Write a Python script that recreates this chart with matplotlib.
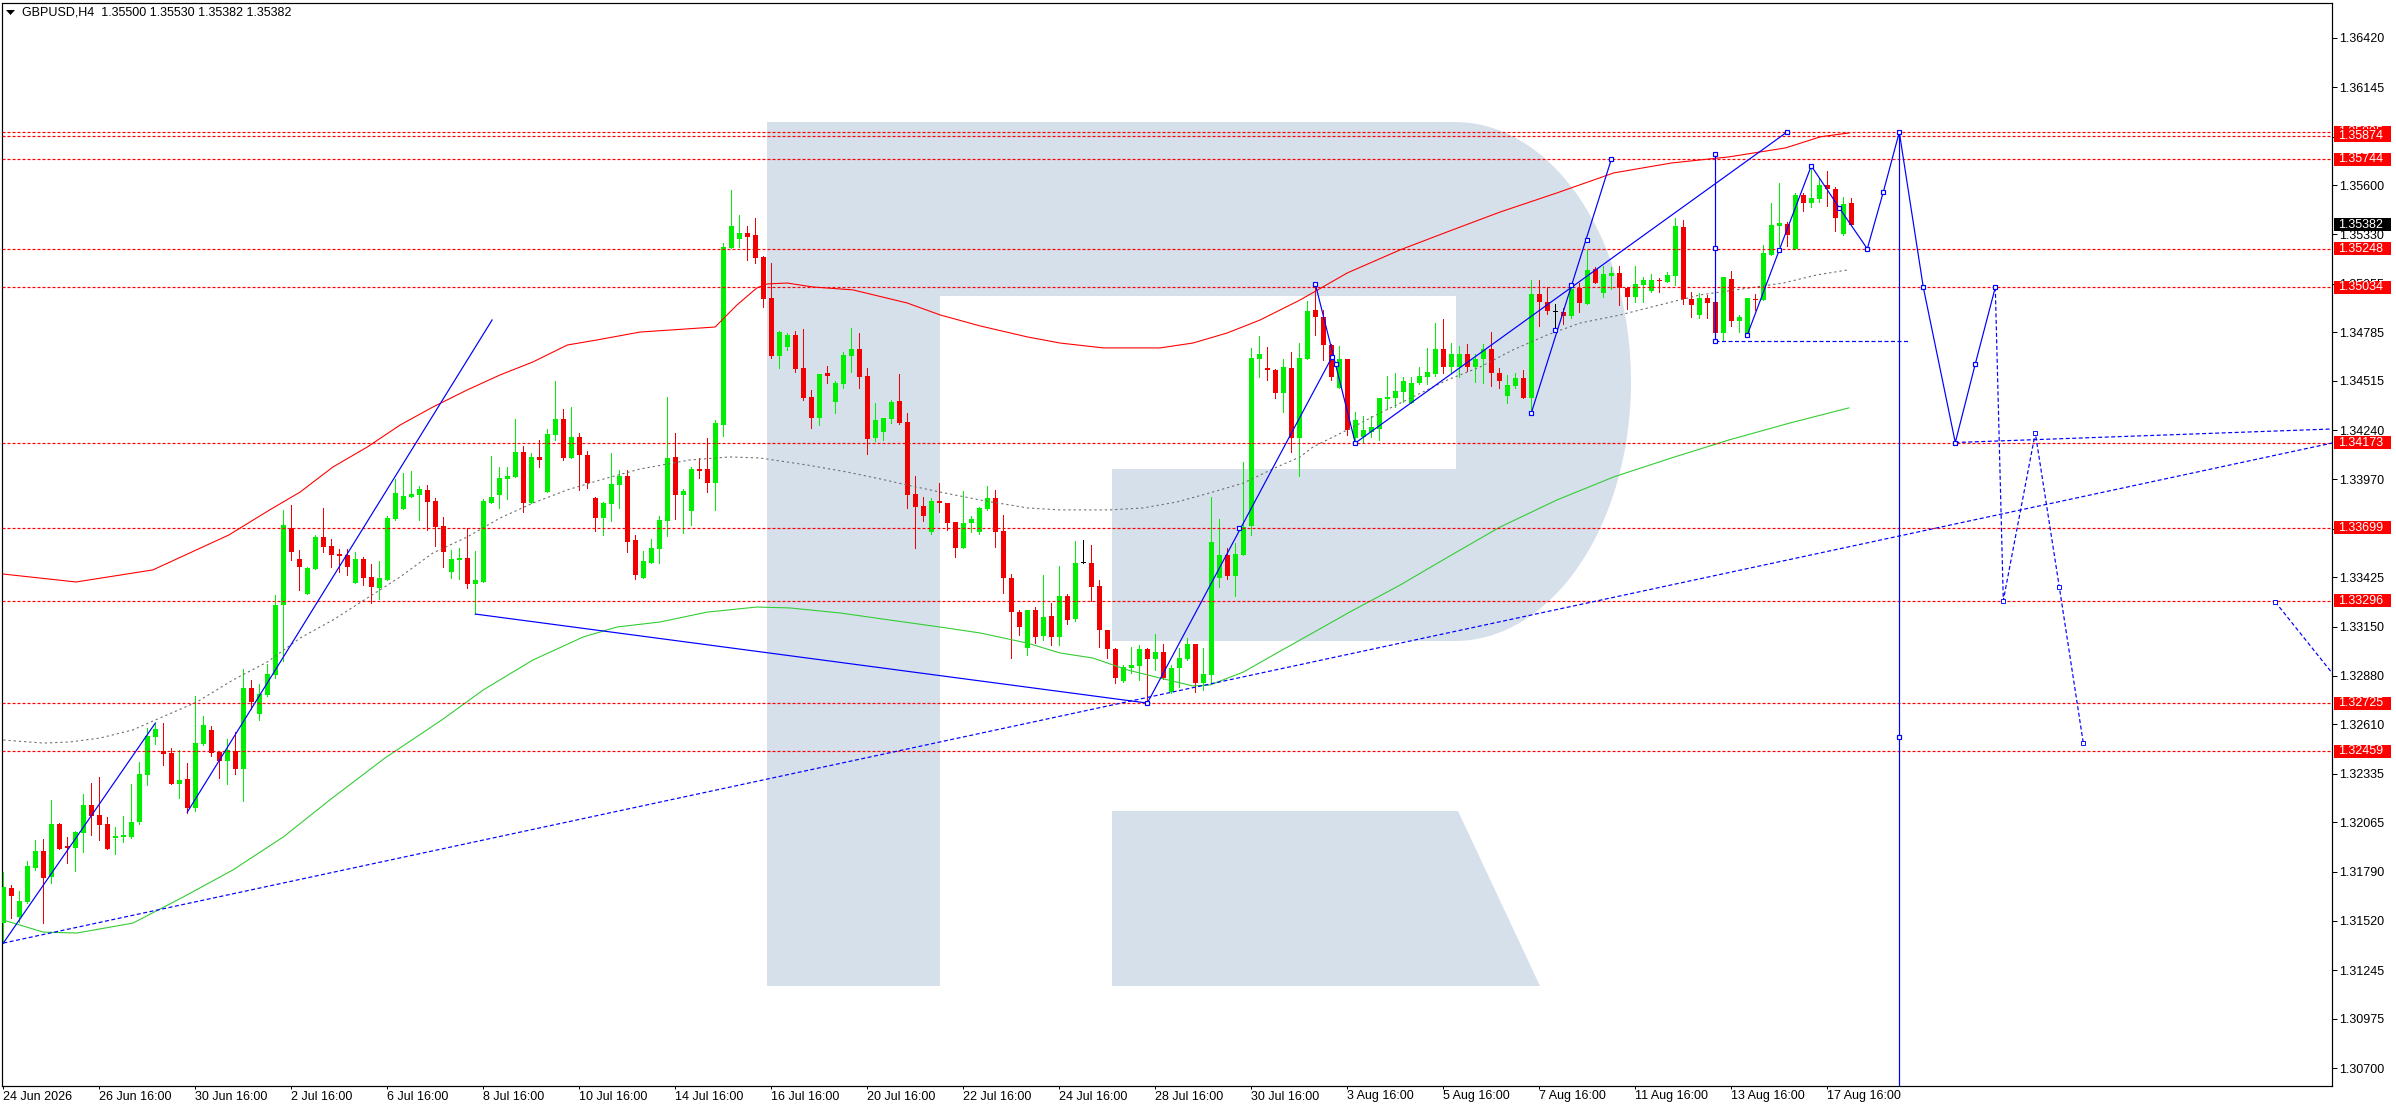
import matplotlib
matplotlib.use('Agg')
import matplotlib.pyplot as plt
import matplotlib.transforms as mtransforms
from matplotlib.patches import Polygon, Rectangle
import numpy as np

plt.rcParams['font.family'] = ['Liberation Sans', 'DejaVu Sans']
plt.rcParams['lines.scale_dashes'] = False

# ---------------- data ----------------
title_text = "GBPUSD,H4  1.35500 1.35530 1.35382 1.35382"

opens = [
1.31506,1.31701,1.31540,1.31623,1.31812,1.31906,1.31762,1.32056,1.31934,1.31923,
1.32006,1.32161,1.32106,1.32056,1.31978,1.31984,1.31984,1.32067,1.32328,1.32539,
1.32461,1.32450,1.32278,1.32306,1.32146,1.32500,1.32578,1.32455,1.32405,1.32461,
1.32361,1.32811,1.32666,1.32772,1.32883,1.33271,1.33699,1.33527,1.33332,1.33471,
1.33649,1.33599,1.33554,1.33549,1.33393,1.33527,1.33427,1.33366,1.33410,1.33749,
1.33804,1.33871,1.33882,1.33910,1.33848,1.33710,1.33454,1.33521,1.33532,1.33388,
1.33399,1.33837,1.33882,1.33971,1.33982,1.34120,1.33837,1.34093,1.33898,1.34215,
1.34304,1.34087,1.34204,1.34104,1.33865,1.33754,1.33832,1.33937,1.33987,1.33632,
1.33421,1.33504,1.33582,1.33737,1.34093,1.33882,1.33793,1.34026,1.34026,1.33948,
1.34270,1.35253,1.35303,1.35336,1.35325,1.35203,1.34975,1.34653,1.34703,1.34770,
1.34587,1.34426,1.34309,1.34559,1.34398,1.34498,1.34653,1.34692,1.34542,1.34198,
1.34231,1.34304,1.34403,1.34287,1.33887,1.33821,1.33676,1.33848,1.33837,1.33732,
1.33588,1.33726,1.33676,1.33804,1.33865,1.33682,1.33421,1.33232,1.33033,1.33244,
1.33099,1.33210,1.33094,1.33321,1.33194,1.33504,1.33504,1.33377,1.33132,1.33027,
1.32849,1.32922,1.32933,1.33027,1.32972,1.33010,1.32788,1.32922,1.32972,1.33055,
1.32838,1.32883,1.33421,1.33549,1.33432,1.33549,1.33710,1.34637,1.34587,1.34576,
1.34448,1.34587,1.34198,1.34637,1.34909,1.34870,1.34714,1.34476,1.34637,1.34198,
1.34204,1.34231,1.34248,1.34415,1.34420,1.34453,1.34392,1.34503,1.34537,1.34553,
1.34692,1.34592,1.34592,1.34664,1.34592,1.34637,1.34692,1.34559,1.34431,1.34487,
1.34531,1.34420,1.34997,1.34953,1.34897,1.34897,1.34875,1.35031,1.34942,1.35136,
1.35003,1.35097,1.35114,1.35031,1.34981,1.35047,1.35014,1.35075,1.35064,1.35097,
1.35369,1.34970,1.34881,1.34975,1.34953,1.34781,1.35081,1.34847,1.34775,1.34970,
1.34964,1.35214,1.35375,1.35386,1.35247,1.35547,1.35502,1.35525,1.35602,1.35580,
1.35330,1.35500]

highs = [
1.31789,1.31717,1.31684,1.31850,1.31967,1.31973,1.32189,1.32061,1.31984,1.32017,
1.32222,1.32283,1.32317,1.32095,1.32039,1.32100,1.32278,1.32400,1.32589,1.32616,
1.32616,1.32478,1.32467,1.32394,1.32766,1.32655,1.32600,1.32455,1.32528,1.32566,
1.32916,1.32855,1.32833,1.32944,1.33327,1.33799,1.33826,1.33577,1.33482,1.33660,
1.33810,1.33638,1.33582,1.33582,1.33565,1.33538,1.33499,1.33515,1.33765,1.33971,
1.34004,1.34015,1.33932,1.33937,1.33865,1.33760,1.33577,1.33588,1.33699,1.33571,
1.33860,1.34098,1.34037,1.34037,1.34304,1.34154,1.34115,1.34187,1.34248,1.34514,
1.34359,1.34370,1.34226,1.34126,1.33871,1.33843,1.34115,1.34021,1.34021,1.33660,
1.33571,1.33638,1.33765,1.34426,1.34226,1.33915,1.34037,1.34087,1.34198,1.34298,
1.35280,1.35575,1.35436,1.35375,1.35419,1.35208,1.35169,1.34792,1.34781,1.34792,
1.34803,1.34465,1.34553,1.34598,1.34514,1.34675,1.34809,1.34781,1.34587,1.34392,
1.34309,1.34409,1.34553,1.34337,1.33987,1.33871,1.33865,1.33948,1.33837,1.33732,
1.33904,1.33765,1.33815,1.33932,1.33910,1.33771,1.33443,1.33244,1.33244,1.33260,
1.33438,1.33282,1.33488,1.33332,1.33627,1.33632,1.33604,1.33410,1.33132,1.33033,
1.32938,1.33038,1.33049,1.33033,1.33110,1.33055,1.32938,1.33033,1.33088,1.33055,
1.33033,1.33871,1.33749,1.33588,1.33615,1.34065,1.34698,1.34764,1.34703,1.34581,
1.34637,1.34675,1.34725,1.34958,1.35053,1.34909,1.34720,1.34709,1.34637,1.34342,
1.34320,1.34320,1.34420,1.34542,1.34559,1.34537,1.34537,1.34592,1.34698,1.34836,
1.34859,1.34725,1.34709,1.34720,1.34664,1.34720,1.34786,1.34587,1.34548,1.34559,
1.34576,1.35075,1.35075,1.35036,1.34942,1.34920,1.35058,1.35058,1.35242,1.35147,
1.35153,1.35147,1.35153,1.35036,1.35153,1.35092,1.35108,1.35086,1.35119,1.35419,
1.35408,1.35008,1.35003,1.34992,1.34953,1.35092,1.35125,1.34881,1.34975,1.34997,
1.35269,1.35502,1.35613,1.35397,1.35558,1.35558,1.35708,1.35641,1.35680,1.35591,
1.35536,1.35530]

lows = [
1.31395,1.31534,1.31512,1.31617,1.31801,1.31506,1.31728,1.31917,1.31839,1.31795,
1.31900,1.31995,1.31967,1.31917,1.31889,1.31956,1.31978,1.32056,1.32272,1.32500,
1.32383,1.32278,1.32200,1.32117,1.32128,1.32494,1.32433,1.32311,1.32278,1.32333,
1.32183,1.32694,1.32633,1.32766,1.32866,1.32960,1.33521,1.33355,1.33332,1.33471,
1.33565,1.33482,1.33454,1.33438,1.33393,1.33382,1.33282,1.33305,1.33410,1.33743,
1.33804,1.33871,1.33743,1.33688,1.33599,1.33482,1.33421,1.33416,1.33366,1.33221,
1.33399,1.33837,1.33810,1.33860,1.33982,1.33787,1.33837,1.34037,1.33898,1.34187,
1.34076,1.34087,1.33910,1.33921,1.33682,1.33660,1.33737,1.33810,1.33565,1.33416,
1.33421,1.33504,1.33504,1.33654,1.33749,1.33671,1.33715,1.33976,1.33898,1.33799,
1.34209,1.35253,1.35258,1.35186,1.35169,1.34925,1.34642,1.34587,1.34687,1.34564,
1.34409,1.34254,1.34270,1.34503,1.34337,1.34476,1.34564,1.34476,1.34109,1.34181,
1.34187,1.34281,1.34276,1.33810,1.33588,1.33737,1.33665,1.33787,1.33688,1.33538,
1.33588,1.33676,1.33665,1.33799,1.33593,1.33338,1.32977,1.33105,1.32994,1.33060,
1.33077,1.33049,1.33049,1.33166,1.33182,1.33504,1.33293,1.33038,1.32977,1.32838,
1.32844,1.32894,1.32855,1.32727,1.32911,1.32861,1.32783,1.32816,1.32966,1.32788,
1.32800,1.32838,1.33371,1.33416,1.33321,1.33549,1.33660,1.34537,1.34520,1.34420,
1.34342,1.34120,1.33987,1.34637,1.34770,1.34631,1.34520,1.34476,1.34215,1.34170,
1.34176,1.34204,1.34187,1.34359,1.34370,1.34398,1.34392,1.34498,1.34498,1.34542,
1.34559,1.34559,1.34537,1.34570,1.34509,1.34503,1.34487,1.34476,1.34392,1.34476,
1.34420,1.34337,1.34820,1.34886,1.34798,1.34831,1.34864,1.34897,1.34942,1.35058,
1.34981,1.35025,1.34936,1.34914,1.34953,1.34953,1.35008,1.35008,1.35064,1.35047,
1.34942,1.34870,1.34864,1.34864,1.34736,1.34742,1.34820,1.34786,1.34770,1.34909,
1.34964,1.35214,1.35264,1.35264,1.35247,1.35458,1.35480,1.35508,1.35486,1.35347,
1.35325,1.35382]

closes = [
1.31706,1.31656,1.31628,1.31823,1.31906,1.31756,1.32056,1.31917,1.31923,1.32011,
1.32161,1.32100,1.32050,1.31917,1.31989,1.31995,1.32067,1.32333,1.32544,1.32583,
1.32444,1.32278,1.32300,1.32146,1.32505,1.32605,1.32450,1.32405,1.32467,1.32361,
1.32811,1.32733,1.32777,1.32888,1.33271,1.33715,1.33565,1.33482,1.33477,1.33649,
1.33593,1.33549,1.33543,1.33482,1.33527,1.33421,1.33371,1.33421,1.33754,1.33893,
1.33876,1.33887,1.33915,1.33843,1.33704,1.33565,1.33527,1.33532,1.33388,1.33410,
1.33848,1.33871,1.33976,1.33987,1.34120,1.33837,1.34093,1.34076,1.34220,1.34304,
1.34087,1.34204,1.34104,1.33948,1.33754,1.33837,1.33943,1.33987,1.33621,1.33438,
1.33515,1.33588,1.33743,1.34087,1.33882,1.33904,1.34026,1.34015,1.33948,1.34281,
1.35258,1.35375,1.35336,1.35314,1.35197,1.34970,1.34653,1.34786,1.34770,1.34581,
1.34420,1.34309,1.34553,1.34542,1.34503,1.34659,1.34692,1.34537,1.34193,1.34298,
1.34309,1.34398,1.34281,1.33882,1.33815,1.33765,1.33848,1.33837,1.33726,1.33588,
1.33726,1.33749,1.33810,1.33865,1.33676,1.33421,1.33232,1.33149,1.33244,1.33094,
1.33205,1.33094,1.33321,1.33188,1.33504,1.33504,1.33371,1.33132,1.33027,1.32866,
1.32927,1.32938,1.33027,1.32972,1.33010,1.32866,1.32922,1.32977,1.33055,1.32838,
1.32888,1.33621,1.33549,1.33432,1.33554,1.33704,1.34642,1.34664,1.34576,1.34448,
1.34592,1.34198,1.34642,1.34903,1.34870,1.34714,1.34537,1.34637,1.34243,1.34298,
1.34243,1.34259,1.34420,1.34426,1.34459,1.34514,1.34503,1.34542,1.34564,1.34692,
1.34592,1.34664,1.34664,1.34592,1.34637,1.34692,1.34559,1.34514,1.34492,1.34531,
1.34420,1.34997,1.34953,1.34903,1.34897,1.34875,1.35025,1.34947,1.35131,1.35058,
1.35108,1.35114,1.35031,1.34981,1.35053,1.35075,1.35075,1.35069,1.35103,1.35375,
1.34970,1.34936,1.34975,1.34947,1.34781,1.35092,1.34847,1.34870,1.34975,1.34964,
1.35225,1.35380,1.35391,1.35325,1.35547,1.35502,1.35530,1.35602,1.35580,1.35419,
1.35497,1.35382]

# indicator lines (bar index, price)
upper_bars = [0, 9.1, 18.7, 28.2, 33.3, 37.1, 41.2, 45.5, 49.6, 53.7, 58, 62.1, 66.2, 70.5,
              74.2, 79.6, 89, 89.6, 91.7, 94.2, 95.5, 98, 101.2, 106.2, 113, 117.1, 122.1,
              128, 132.1, 137.5, 144.6, 148.7, 153, 157.1, 162.1, 168, 174.6, 180.8, 187.1,
              194.2, 201.3, 208.5, 215.7, 222.8, 227.1, 230.7]
upper_vals = [1.33443, 1.33399, 1.33466, 1.33660, 1.33799, 1.33898, 1.34037, 1.34148, 1.34270,
              1.34370, 1.34465, 1.34548, 1.34620, 1.34714, 1.34742, 1.34786, 1.34814, 1.34842,
              1.34936, 1.35031, 1.35053, 1.35058, 1.35036, 1.35020, 1.34947, 1.34881, 1.34820,
              1.34759, 1.34725, 1.34698, 1.34698, 1.34725, 1.34781, 1.34853, 1.34964, 1.35114,
              1.35242, 1.35347, 1.35452, 1.35558, 1.35669, 1.35724, 1.35758, 1.35808, 1.35869,
              1.35891]

mid_bars = [0, 5, 8.3, 12.1, 16.2, 19, 24.2, 28.7, 33, 37.1, 41.2, 45.5, 49.6, 53.7, 58, 62.1,
            66.2, 70.5, 74.6, 79.6, 85.8, 90.8, 94.6, 100.5, 105.5, 109.6, 113, 117.1, 122.1,
            128, 132.1, 138.3, 142.5, 146.7, 150.8, 155, 159.2, 162.1, 163.7, 168, 172.1, 176.2,
            180.5, 184.6, 188.7, 193, 197.1, 202.1, 208, 212.1, 218.3, 222.5, 226.7, 230.6]
mid_vals = [1.32522, 1.32505, 1.32511, 1.32533, 1.32578, 1.32633, 1.32733, 1.32855, 1.32955,
            1.33088, 1.33188, 1.33310, 1.33427, 1.33560, 1.33649, 1.33754, 1.33837, 1.33910,
            1.33965, 1.34026, 1.34076, 1.34093, 1.34087, 1.34048, 1.34009, 1.33971, 1.33937,
            1.33898, 1.33854, 1.33810, 1.33799, 1.33799, 1.33810, 1.33843, 1.33893, 1.33948,
            1.34037, 1.34093, 1.34148, 1.34243, 1.34337, 1.34426, 1.34520, 1.34592, 1.34687,
            1.34770, 1.34836, 1.34881, 1.34947, 1.34992, 1.35031, 1.35058, 1.35103, 1.35131]

lower_bars = [0, 5, 9.2, 16.2, 22.5, 28.7, 35, 40.8, 47.7, 54.8, 60, 66.2, 72.5, 76.7, 82.1,
              88, 94.2, 98.3, 104.6, 110.8, 117.1, 122.1, 128, 132.1, 136.2, 140.5, 144.6,
              148.7, 150.8, 155, 159.2, 162.1, 168.3, 174.6, 180.8, 187.1, 194.2, 201.3,
              208.5, 215.7, 223.3, 230.7]
lower_vals = [1.31523, 1.31456, 1.31451, 1.31506, 1.31651, 1.31801, 1.31984, 1.32189, 1.32422,
              1.32633, 1.32800, 1.32966, 1.33094, 1.33149, 1.33177, 1.33232, 1.33260, 1.33255,
              1.33227, 1.33188, 1.33149, 1.33116, 1.33060, 1.33005, 1.32977, 1.32911, 1.32866,
              1.32822, 1.32827, 1.32899, 1.33005, 1.33077, 1.33232, 1.33382, 1.33543, 1.33704,
              1.33854, 1.33982, 1.34087, 1.34187, 1.34281, 1.34365]

# horizontal levels
red_levels = [1.35895, 1.35874, 1.35744, 1.35248, 1.35034, 1.34173, 1.33699, 1.33296, 1.32725, 1.32459]
current_price = 1.35382

# price axis ticks
ytick_vals = [1.36420, 1.36145, 1.35870, 1.35600, 1.35330, 1.35055, 1.34785, 1.34515, 1.34240,
              1.33970, 1.33695, 1.33425, 1.33150, 1.32880, 1.32610, 1.32335, 1.32065, 1.31790,
              1.31520, 1.31245, 1.30975, 1.30700]

# time axis
xtick_bars = [0, 12, 24, 36, 48, 60, 72, 84, 96, 108, 120, 132, 144, 156, 168, 180, 192, 204, 216, 228]
xtick_labels = ["24 Jun 2026", "26 Jun 16:00", "30 Jun 16:00", "2 Jul 16:00", "6 Jul 16:00",
                "8 Jul 16:00", "10 Jul 16:00", "14 Jul 16:00", "16 Jul 16:00", "20 Jul 16:00",
                "22 Jul 16:00", "24 Jul 16:00", "28 Jul 16:00", "30 Jul 16:00", "3 Aug 16:00",
                "5 Aug 16:00", "7 Aug 16:00", "11 Aug 16:00", "13 Aug 16:00", "17 Aug 16:00"]

# analysis objects (bar index, price)
segA_bars, segA_vals = [0, 19], [1.31395, 1.32616]
segB_bars, segB_vals = [23, 61.1], [1.32122, 1.34853]
trend_bars, trend_vals = [0, 291.1], [1.31395, 1.34170]
line3_bars, line3_vals = [59, 143], [1.33221, 1.32727]
line4_bars, line4_vals = [143, 166.1], [1.32727, 1.34648]
line5_bars, line5_vals = [164, 169], [1.35053, 1.34170]
line6_bars, line6_vals = [169, 223], [1.34170, 1.35897]
line7_bars, line7_vals = [191, 201], [1.34337, 1.35744]
vline1_bar, vline1_vals = 214, [1.35774, 1.34736]
hdash1_bars, hdash1_vals = [214, 238.2], [1.34736, 1.34736]
zig_bars = [218, 222, 226, 229.5, 233, 235, 237, 240, 244, 246.5, 249]
zig_vals = [1.34770, 1.35242, 1.35708, 1.35475, 1.35248, 1.35563, 1.35895, 1.35034, 1.34173, 1.34609, 1.35034]
vline2_bar, vline2_vals = 237, [1.35895, 1.30]
fc_bars = [249, 250, 254, 257, 260]
fc_vals = [1.35034, 1.33296, 1.34226, 1.33371, 1.32505]
hdash2_bars, hdash2_vals = [244, 291.1], [1.34173, 1.34248]
dash3_bars, dash3_vals = [284, 296], [1.33288, 1.32622]

mark_bars = [143, 154.5, 164, 166.1, 166.6, 169, 191, 194, 196, 198, 201, 214, 214, 214, 218,
             222, 226, 229.5, 233, 235, 237, 240, 244, 246.5, 249, 223, 237]
mark_vals = [1.32727, 1.33699, 1.35053, 1.34648, 1.34609, 1.34170, 1.34337, 1.34798, 1.35047,
             1.35297, 1.35744, 1.35774, 1.35253, 1.34736, 1.34770, 1.35242, 1.35708, 1.35475,
             1.35248, 1.35563, 1.35895, 1.35034, 1.34173, 1.34609, 1.35034, 1.35897, 1.32539]
dmark_bars = [250, 254, 257, 260, 284]
dmark_vals = [1.33296, 1.34226, 1.33371, 1.32505, 1.33288]

# ---------------- figure ----------------
W, H, DPI = 2396, 1110, 100
PX = 72.0 / DPI
FS = 9
fig = plt.figure(figsize=(W / DPI, H / DPI), dpi=DPI, facecolor='white')
L, R, T, B = 2, 2332, 3, 1086
ax = fig.add_axes([L / W, 1 - B / H, (R - L) / W, (B - T) / H])
ax.set_facecolor('white')
ax.set_xlim((L - 3.3) / 8.0, (R - 3.3) / 8.0)
ax.set_ylim(1.30602, 1.36612)

# watermark "R" logo (pixel geometry, figure coordinates)
def fp(pts):
    return [(x / W, 1 - y / H) for x, y in pts]

wm = '#D6E0EB'
stem = [(767, 122), (940, 122), (940, 986), (767, 986)]
t = np.linspace(np.pi / 2, -np.pi / 2, 80)
arc = [(1455 + 176 * np.cos(a), 381.5 - 259.5 * np.sin(a)) for a in t]
bowl = [(940, 122)] + arc + [(1112, 641), (1112, 469), (1456, 469), (1456, 296), (940, 296)]
leg = [(1112, 811), (1458, 811), (1540, 986), (1112, 986)]
for shape in (stem, bowl, leg):
    ax.add_patch(Polygon(fp(shape), closed=True, transform=fig.transFigure,
                         facecolor=wm, edgecolor='none', zorder=0.5))

# candles
o = np.array(opens); h = np.array(highs); l = np.array(lows); c = np.array(closes)
xs = np.arange(len(o))
up_col, dn_col = '#00EE00', '#F00000'
cols = [up_col if cc > oo else (dn_col if cc < oo else 'black') for oo, cc in zip(o, c)]
ax.vlines(xs, l, h, colors=cols, linewidth=PX, zorder=3, antialiased=False)
body_h = np.maximum(np.abs(c - o), 0.00006)
ax.bar(xs, body_h, bottom=np.minimum(o, c), width=0.62, color=cols, linewidth=0,
       zorder=3.1, antialiased=False)

# indicators
ax.plot(upper_bars, upper_vals, color='#FF0000', lw=PX * 1.1, zorder=3.5)
ax.plot(mid_bars, mid_vals, color='#6E6E6E', lw=PX * 1.1, dashes=(2.2 * PX, 3 * PX), zorder=3.5)
ax.plot(lower_bars, lower_vals, color='#32CD32', lw=PX * 1.1, zorder=3.5)

# horizontal red levels
for lv in red_levels:
    ax.axhline(lv, color='#FF0000', lw=PX * 1.2, dashes=(3 * PX, 2 * PX), zorder=4)

# blue analysis objects
blue = '#0000FF'
solid = dict(color=blue, lw=PX * 1.2, zorder=5)
dash = dict(color=blue, lw=PX * 1.2, dashes=(4 * PX, 2.5 * PX), zorder=5)
for bx, by in [(segA_bars, segA_vals), (segB_bars, segB_vals), (line3_bars, line3_vals),
               (line4_bars, line4_vals), (line5_bars, line5_vals), (line6_bars, line6_vals),
               (line7_bars, line7_vals), (zig_bars, zig_vals)]:
    ax.plot(bx, by, **solid)
ax.plot([vline1_bar, vline1_bar], vline1_vals, **solid)
ax.plot([vline2_bar, vline2_bar], vline2_vals, **solid)
for bx, by in [(trend_bars, trend_vals), (hdash1_bars, hdash1_vals), (fc_bars, fc_vals),
               (hdash2_bars, hdash2_vals), (dash3_bars, dash3_vals)]:
    ax.plot(bx, by, **dash)
ax.plot(mark_bars, mark_vals, ls='none', marker='s', ms=5 * PX, mfc='white', mec=blue,
        mew=PX * 1.2, zorder=6)
ax.plot(dmark_bars, dmark_vals, ls='none', marker='s', ms=4 * PX, mfc='white', mec=blue,
        mew=PX * 0.9, zorder=6)

# axes styling
for sp in ax.spines.values():
    sp.set_color('black'); sp.set_linewidth(PX * 1.2)
ax.yaxis.tick_right()
ax.set_yticks(ytick_vals)
ax.set_yticklabels([f'{v:.5f}' for v in ytick_vals])
ax.tick_params(axis='y', direction='out', length=5 * PX, width=PX, pad=2 * PX,
               labelsize=FS, colors='black')
ax.set_xticks(xtick_bars)
ax.set_xticklabels(xtick_labels)
for lab in ax.get_xticklabels():
    lab.set_horizontalalignment('left')
ax.tick_params(axis='x', direction='out', length=3 * PX, width=PX, pad=1.5 * PX,
               labelsize=FS, colors='black')

# price labels on the axis (each later tag covers the earlier ones, as in the terminal)
bt = mtransforms.blended_transform_factory(ax.transAxes, ax.transData)
span = R - L
box_h = 13 * 0.0000555
tag_z = [10.0]
def price_tag(val, fc):
    z = tag_z[0]
    ax.add_patch(Rectangle(((2334 - L) / span, val - box_h / 2), 57 / span, box_h,
                           transform=bt, facecolor=fc, edgecolor='none', clip_on=False, zorder=z))
    ax.text((2338 - L) / span, val, f'{val:.5f}', transform=bt, color='white', fontsize=FS,
            ha='left', va='center', clip_on=False, zorder=z + 0.05)
    tag_z[0] = z + 0.1

for lv in red_levels:
    price_tag(lv, '#FF0000')
price_tag(current_price, 'black')

# title
fig.patches.append(Polygon(fp([(6, 10), (15, 10), (10.5, 15)]), closed=True, transform=fig.transFigure,
                           facecolor='black', edgecolor='none', figure=fig))
fig.text(22 / W, 1 - 12.5 / H, title_text, fontsize=FS, color='black', ha='left', va='center')

fig.savefig('out.png', dpi=DPI, facecolor='white')
